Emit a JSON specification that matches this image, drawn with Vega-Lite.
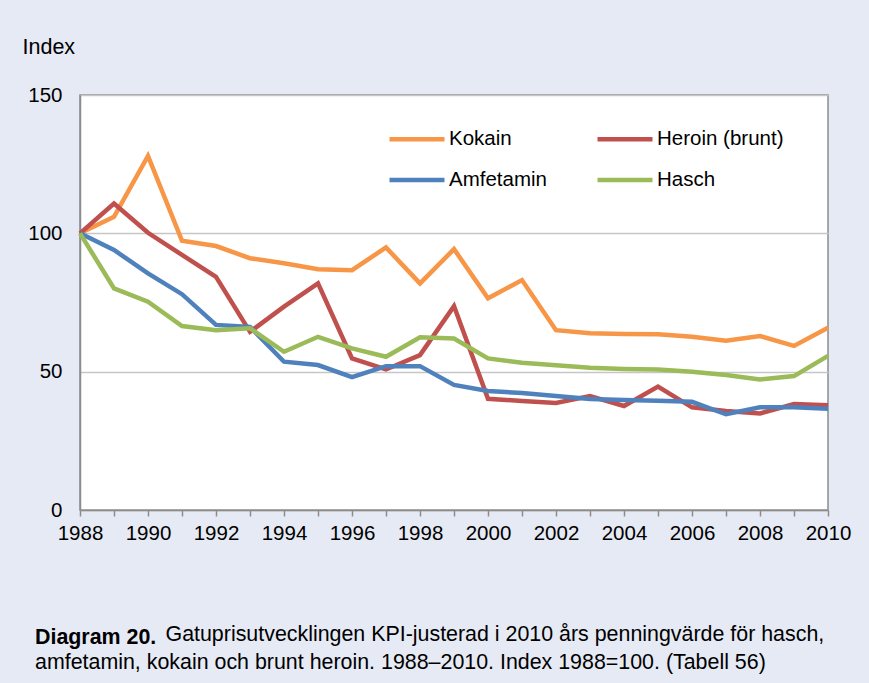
{
  "$schema": "https://vega.github.io/schema/vega-lite/v6.json",
  "width": 748,
  "height": 415,
  "autosize": {"type": "none"},
  "padding": {"left": 80, "top": 95, "right": 41, "bottom": 173},
  "background": "#E6EAF4",
  "config": {
    "font": "Liberation Sans",
    "view": {"fill": "white", "stroke": "#8C8C8C", "strokeWidth": 1.5}
  },
  "title": {
    "text": "Diagram 20.",
    "subtitle": "amfetamin, kokain och brunt heroin. 1988–2010. Index 1988=100. (Tabell 56)",
    "orient": "bottom",
    "anchor": "start",
    "frame": "group",
    "dx": -45,
    "offset": 0,
    "fontSize": 21.4,
    "fontWeight": "bold",
    "color": "#000000",
    "subtitleFontSize": 21.4,
    "subtitleColor": "#000000",
    "subtitlePadding": 3,
    "baseline": "alphabetic"
  },
  "data": {
    "values": [
      {"year": 1988, "drug": "Kokain", "value": 100},
      {"year": 1989, "drug": "Kokain", "value": 106},
      {"year": 1990, "drug": "Kokain", "value": 128},
      {"year": 1991, "drug": "Kokain", "value": 97.3},
      {"year": 1992, "drug": "Kokain", "value": 95.4},
      {"year": 1993, "drug": "Kokain", "value": 91},
      {"year": 1994, "drug": "Kokain", "value": 89.2},
      {"year": 1995, "drug": "Kokain", "value": 87},
      {"year": 1996, "drug": "Kokain", "value": 86.7},
      {"year": 1997, "drug": "Kokain", "value": 94.9},
      {"year": 1998, "drug": "Kokain", "value": 81.9},
      {"year": 1999, "drug": "Kokain", "value": 94.3},
      {"year": 2000, "drug": "Kokain", "value": 76.5},
      {"year": 2001, "drug": "Kokain", "value": 83.1},
      {"year": 2002, "drug": "Kokain", "value": 65},
      {"year": 2003, "drug": "Kokain", "value": 63.9},
      {"year": 2004, "drug": "Kokain", "value": 63.6},
      {"year": 2005, "drug": "Kokain", "value": 63.5},
      {"year": 2006, "drug": "Kokain", "value": 62.6},
      {"year": 2007, "drug": "Kokain", "value": 61.2},
      {"year": 2008, "drug": "Kokain", "value": 62.9},
      {"year": 2009, "drug": "Kokain", "value": 59.3},
      {"year": 2010, "drug": "Kokain", "value": 65.9},
      {"year": 1988, "drug": "Heroin (brunt)", "value": 100},
      {"year": 1989, "drug": "Heroin (brunt)", "value": 110.8},
      {"year": 1990, "drug": "Heroin (brunt)", "value": 100.2},
      {"year": 1991, "drug": "Heroin (brunt)", "value": 92.2},
      {"year": 1992, "drug": "Heroin (brunt)", "value": 84.3},
      {"year": 1993, "drug": "Heroin (brunt)", "value": 64.4},
      {"year": 1994, "drug": "Heroin (brunt)", "value": 73.5},
      {"year": 1995, "drug": "Heroin (brunt)", "value": 81.9},
      {"year": 1996, "drug": "Heroin (brunt)", "value": 54.8},
      {"year": 1997, "drug": "Heroin (brunt)", "value": 50.8},
      {"year": 1998, "drug": "Heroin (brunt)", "value": 56},
      {"year": 1999, "drug": "Heroin (brunt)", "value": 73.7},
      {"year": 2000, "drug": "Heroin (brunt)", "value": 40.2},
      {"year": 2001, "drug": "Heroin (brunt)", "value": 39.4},
      {"year": 2002, "drug": "Heroin (brunt)", "value": 38.7},
      {"year": 2003, "drug": "Heroin (brunt)", "value": 41.2},
      {"year": 2004, "drug": "Heroin (brunt)", "value": 37.6},
      {"year": 2005, "drug": "Heroin (brunt)", "value": 44.6},
      {"year": 2006, "drug": "Heroin (brunt)", "value": 37.1},
      {"year": 2007, "drug": "Heroin (brunt)", "value": 35.8},
      {"year": 2008, "drug": "Heroin (brunt)", "value": 34.9},
      {"year": 2009, "drug": "Heroin (brunt)", "value": 38.3},
      {"year": 2010, "drug": "Heroin (brunt)", "value": 37.9},
      {"year": 1988, "drug": "Amfetamin", "value": 100},
      {"year": 1989, "drug": "Amfetamin", "value": 94},
      {"year": 1990, "drug": "Amfetamin", "value": 85.5},
      {"year": 1991, "drug": "Amfetamin", "value": 78},
      {"year": 1992, "drug": "Amfetamin", "value": 66.9},
      {"year": 1993, "drug": "Amfetamin", "value": 66.2},
      {"year": 1994, "drug": "Amfetamin", "value": 53.6},
      {"year": 1995, "drug": "Amfetamin", "value": 52.4},
      {"year": 1996, "drug": "Amfetamin", "value": 48},
      {"year": 1997, "drug": "Amfetamin", "value": 52},
      {"year": 1998, "drug": "Amfetamin", "value": 52},
      {"year": 1999, "drug": "Amfetamin", "value": 45.2},
      {"year": 2000, "drug": "Amfetamin", "value": 43},
      {"year": 2001, "drug": "Amfetamin", "value": 42.3},
      {"year": 2002, "drug": "Amfetamin", "value": 41.2},
      {"year": 2003, "drug": "Amfetamin", "value": 40.1},
      {"year": 2004, "drug": "Amfetamin", "value": 39.8},
      {"year": 2005, "drug": "Amfetamin", "value": 39.5},
      {"year": 2006, "drug": "Amfetamin", "value": 39.1},
      {"year": 2007, "drug": "Amfetamin", "value": 34.6},
      {"year": 2008, "drug": "Amfetamin", "value": 37.1},
      {"year": 2009, "drug": "Amfetamin", "value": 37.1},
      {"year": 2010, "drug": "Amfetamin", "value": 36.6},
      {"year": 1988, "drug": "Hasch", "value": 100},
      {"year": 1989, "drug": "Hasch", "value": 80.1},
      {"year": 1990, "drug": "Hasch", "value": 75.3},
      {"year": 1991, "drug": "Hasch", "value": 66.5},
      {"year": 1992, "drug": "Hasch", "value": 65},
      {"year": 1993, "drug": "Hasch", "value": 65.7},
      {"year": 1994, "drug": "Hasch", "value": 57.2},
      {"year": 1995, "drug": "Hasch", "value": 62.6},
      {"year": 1996, "drug": "Hasch", "value": 58.4},
      {"year": 1997, "drug": "Hasch", "value": 55.4},
      {"year": 1998, "drug": "Hasch", "value": 62.4},
      {"year": 1999, "drug": "Hasch", "value": 62},
      {"year": 2000, "drug": "Hasch", "value": 54.8},
      {"year": 2001, "drug": "Hasch", "value": 53.2},
      {"year": 2002, "drug": "Hasch", "value": 52.3},
      {"year": 2003, "drug": "Hasch", "value": 51.4},
      {"year": 2004, "drug": "Hasch", "value": 51},
      {"year": 2005, "drug": "Hasch", "value": 50.8},
      {"year": 2006, "drug": "Hasch", "value": 50},
      {"year": 2007, "drug": "Hasch", "value": 48.8},
      {"year": 2008, "drug": "Hasch", "value": 47.2},
      {"year": 2009, "drug": "Hasch", "value": 48.4},
      {"year": 2010, "drug": "Hasch", "value": 55.7}
    ]
  },
  "mark": {"type": "line", "strokeWidth": 4.5, "strokeJoin": "miter"},
  "encoding": {
    "x": {
      "field": "year",
      "type": "quantitative",
      "scale": {"domain": [1988, 2010], "nice": false, "zero": false},
      "axis": {
        "values": [1988,1989,1990,1991,1992,1993,1994,1995,1996,1997,1998,1999,2000,2001,2002,2003,2004,2005,2006,2007,2008,2009,2010],
        "format": "d",
        "labelExpr": "datum.value % 2 == 0 ? datum.label : ''",
        "labelOverlap": false,
        "labelFontSize": 20.5,
        "labelColor": "#000000",
        "labelPadding": 7,
        "labelFlush": false,
        "grid": false,
        "domainColor": "#8C8C8C",
        "domainWidth": 1.5,
        "tickColor": "#8C8C8C",
        "tickWidth": 1.5,
        "tickSize": 6,
        "title": "Gatuprisutvecklingen KPI-justerad i 2010 års penningvärde för hasch,",
        "titleFontSize": 21.4,
        "titleFontWeight": "normal",
        "titleColor": "#000000",
        "titleAlign": "left",
        "titleAnchor": null,
        "titleBaseline": "alphabetic",
        "titleX": 85,
        "titleY": 130
      }
    },
    "y": {
      "field": "value",
      "type": "quantitative",
      "scale": {"domain": [0, 150], "nice": false},
      "axis": {
        "values": [0, 50, 100, 150],
        "labelFontSize": 20.5,
        "labelColor": "#000000",
        "labelPadding": 18,
        "ticks": false,
        "domainColor": "#8C8C8C",
        "domainWidth": 1.5,
        "gridColor": "#C6C6C6",
        "gridWidth": 1.5,
        "title": "Index",
        "titleFontSize": 21.5,
        "titleFontWeight": "normal",
        "titleColor": "#000000",
        "titleAngle": 0,
        "titleAlign": "left",
        "titleBaseline": "alphabetic",
        "titleX": -58,
        "titleY": -42
      }
    },
    "color": {
      "field": "drug",
      "type": "nominal",
      "sort": ["Kokain", "Amfetamin", "Heroin (brunt)", "Hasch"],
      "scale": {
        "domain": ["Kokain", "Amfetamin", "Heroin (brunt)", "Hasch"],
        "range": ["#F79646", "#4F81BD", "#C0504D", "#9BBB59"]
      },
      "legend": {
        "title": null,
        "orient": "none",
        "legendX": 307,
        "legendY": 14,
        "columns": 2,
        "columnPadding": 41,
        "rowPadding": 0,
        "symbolType": "stroke",
        "symbolSize": 3025,
        "symbolStrokeWidth": 4.5,
        "labelFontSize": 20.5,
        "labelColor": "#000000",
        "labelOffset": 2
      }
    }
  }
}
